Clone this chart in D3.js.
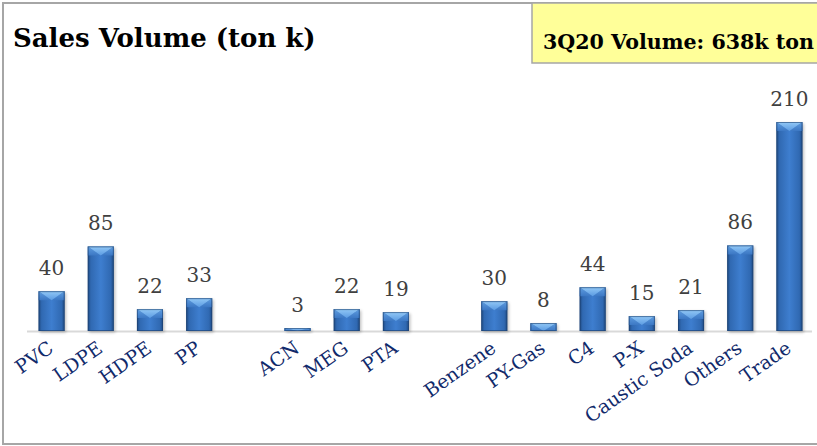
<!DOCTYPE html>
<html>
<head>
<meta charset="utf-8">
<script src="https://cdn.jsdelivr.net/npm/d3@7"></script>
<style>
  html, body { margin: 0; padding: 0; background: #fff; }
  svg { display: block; }
</style>
</head>
<body>
<script>
// Product categories; empty strings are spacer slots between product groups
const categories = ["PVC", "LDPE", "HDPE", "PP", "", "ACN", "MEG", "PTA", "",
  "Benzene", "PY-Gas", "C4", "P-X", "Caustic Soda", "Others", "Trade"];
// Sales volume per category (thousand tons); null for spacer slots
const volumes = [40, 85, 22, 33, null, 3, 22, 19, null, 30, 8, 44, 15, 21, 86, 210];
const titleText = "Sales Volume (ton k)";
const totalText = "3Q20 Volume: 638k ton";

const W = 817, H = 446;
const serif = "'DejaVu Serif', 'Liberation Serif', serif";

const svg = d3.select("body").append("svg")
  .attr("width", W).attr("height", H);

const defs = svg.append("defs");

// Body gradient: darker edges, lighter centre for the rounded 3D look
const bodyGrad = defs.append("linearGradient").attr("id", "barBody")
  .attr("x1", "0").attr("x2", "1").attr("y1", "0").attr("y2", "0");
[[0, "#1f4a82"], [0.12, "#3069b2"], [0.5, "#3e7ecf"], [0.88, "#3069b2"], [1, "#1f4a82"]]
  .forEach(([o, c]) => bodyGrad.append("stop").attr("offset", o).attr("stop-color", c));

const capGrad = defs.append("linearGradient").attr("id", "barCap")
  .attr("x1", "0").attr("x2", "0").attr("y1", "0").attr("y2", "1");
[[0, "#92c8f6"], [1, "#5b9be2"]]
  .forEach(([o, c]) => capGrad.append("stop").attr("offset", o).attr("stop-color", c));

const sideGrad = defs.append("linearGradient").attr("id", "barSide")
  .attr("x1", "0").attr("x2", "0").attr("y1", "0").attr("y2", "1");
[[0, "#5f9de0"], [1, "#3c78c4"]]
  .forEach(([o, c]) => sideGrad.append("stop").attr("offset", o).attr("stop-color", c));

const shadow = defs.append("filter").attr("id", "soft")
  .attr("x", "-20%").attr("y", "-20%").attr("width", "140%").attr("height", "160%");
shadow.append("feGaussianBlur").attr("stdDeviation", 1.5);

// Outer frame
svg.append("rect")
  .attr("x", 3).attr("y", 3).attr("width", W + 20).attr("height", H - 5)
  .attr("fill", "#fff").attr("stroke", "#a6a6a6").attr("stroke-width", 2);

// Scales
const x = d3.scaleBand().domain(d3.range(categories.length))
  .range([27, 814]).paddingInner(0.47).paddingOuter(0.235);
const y = d3.scaleLinear().domain([0, 210]).range([331, 122]);

// Axis baseline with a soft shadow
svg.append("line")
  .attr("x1", 27).attr("x2", 812).attr("y1", y(0) + 3).attr("y2", y(0) + 3)
  .attr("stroke", "#c8c8c8").attr("stroke-width", 3).attr("filter", "url(#soft)");
svg.append("line")
  .attr("x1", 27).attr("x2", 812).attr("y1", y(0) + 0.5).attr("y2", y(0) + 0.5)
  .attr("stroke", "#d9d9d9").attr("stroke-width", 2);

const data = categories.map((c, i) => ({ c, v: volumes[i], i }))
  .filter(d => d.v != null);

const bars = svg.append("g").selectAll("g").data(data).join("g");

bars.each(function (d) {
  const g = d3.select(this);
  const x0 = x(d.i), bw = x.bandwidth(), x1 = x0 + bw, cx = x0 + bw / 2;
  const top = y(d.v), bottom = y(0), h = bottom - top;
  const b = Math.min(9, h);
  // faint drop shadow
  g.append("rect").attr("x", x0 + 1.5).attr("y", top + 1.5).attr("width", bw).attr("height", h)
    .attr("fill", "#000").attr("opacity", 0.25).attr("filter", "url(#soft)");
  g.append("rect").attr("x", x0).attr("y", top).attr("width", bw).attr("height", h)
    .attr("fill", "url(#barBody)");
  // bevelled top: side facets and lighter centre triangle
  g.append("path")
    .attr("d", `M${x0},${top}L${cx},${top + b}L${x0},${top + b}Z`)
    .attr("fill", "url(#barSide)");
  g.append("path")
    .attr("d", `M${x1},${top}L${cx},${top + b}L${x1},${top + b}Z`)
    .attr("fill", "url(#barSide)");
  g.append("path")
    .attr("d", `M${x0},${top}L${x1},${top}L${cx},${top + b}Z`)
    .attr("fill", "url(#barCap)");
  g.append("rect").attr("x", x0 + 0.5).attr("y", top + 0.5).attr("width", bw - 1).attr("height", Math.max(0, h - 1))
    .attr("fill", "none").attr("stroke", "#1c3f6e").attr("stroke-width", 1).attr("opacity", 0.6);
});

// Value labels
svg.append("g").selectAll("text").data(data).join("text")
  .attr("x", d => x(d.i) + x.bandwidth() / 2)
  .attr("y", d => y(d.v) - 16)
  .attr("text-anchor", "middle")
  .attr("font-family", serif).attr("font-size", 20)
  .attr("fill", "#404040")
  .text(d => d.v);

// Category labels, rotated
svg.append("g").selectAll("text").data(categories.map((c, i) => ({ c, i })).filter(d => d.c))
  .join("text")
  .attr("transform", d => `translate(${x(d.i) + x.bandwidth() / 2 + 3},${y(0) + 20}) rotate(-35)`)
  .attr("text-anchor", "end")
  .attr("font-family", serif).attr("font-size", 19)
  .attr("fill", "#112a6b")
  .text(d => d.c);

// Title
svg.append("text").attr("x", 13).attr("y", 47)
  .attr("font-family", serif).attr("font-weight", "bold").attr("font-size", 26)
  .attr("fill", "#000").text(titleText);

// Total volume call-out
svg.append("rect").attr("x", 532).attr("y", 3).attr("width", 300).attr("height", 60)
  .attr("fill", "#ffff99").attr("stroke", "#a6a6a6").attr("stroke-width", 1.5);
svg.append("text").attr("x", 543).attr("y", 49)
  .attr("font-family", serif).attr("font-weight", "bold").attr("font-size", 20.6)
  .attr("fill", "#000").text(totalText);
</script>
</body>
</html>
